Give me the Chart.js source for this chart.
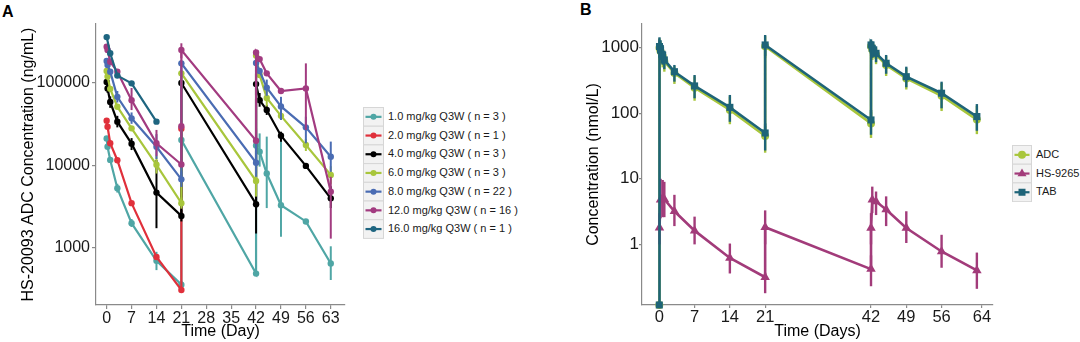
<!DOCTYPE html>
<html>
<head>
<meta charset="utf-8">
<title>HS-20093 pharmacokinetics</title>
<script src="https://cdn.jsdelivr.net/npm/chart.js@4.4.1/dist/chart.umd.min.js"></script>
<style>
  html, body { margin: 0; padding: 0; background: #fff; }
  body { position: relative; width: 1080px; height: 342px; overflow: hidden;
         font-family: "Liberation Sans", Arial, Helvetica, sans-serif; }
  canvas { position: absolute; top: 0; }
  #chartA { left: 0; }
  #chartB { left: 540px; }
  .tag { position: absolute; font-weight: bold; font-size: 16px; line-height: 1; color: #000; }
  .legend { position: absolute; }
  .legend svg { position: absolute; left: 0; top: 0; }
  .legend .lab { position: absolute; white-space: nowrap; font-size: 11px; color: #1a1a1a; }
</style>
</head>
<body>
<div class="tag" style="left:2px;top:4px">A</div>
<div class="tag" style="left:580px;top:2px">B</div>
<canvas id="chartA" width="350" height="342"></canvas>
<canvas id="chartB" width="460" height="342"></canvas>
<div id="legendA" class="legend" style="left:363px;top:107px"></div>
<div id="legendB" class="legend" style="left:1012px;top:145px"></div>
<script>
const FONT = '"Liberation Sans", Arial, Helvetica, sans-serif';
const AXIS_GREY = '#8a8a8a';

// ---------- Panel A: ADC concentration by dose level ----------
const daysA = [0, 0.25, 1, 3, 7, 14, 21, 21, 21, 42, 42, 43, 45, 49, 56, 63];
const xTicksA = [0, 7, 14, 21, 28, 35, 42, 49, 56, 63];
const yTicksA = [1000, 10000, 100000];

const doseLabels = [
  '1.0 mg/kg Q3W ( n = 3 )', '2.0 mg/kg Q3W ( n = 1 )', '4.0 mg/kg Q3W ( n = 3 )',
  '6.0 mg/kg Q3W ( n = 3 )', '8.0 mg/kg Q3W ( n = 22 )', '12.0 mg/kg Q3W ( n = 16 )',
  '16.0 mg/kg Q3W ( n = 1 )'
];
const doseColors = ['#4fa6a5', '#e0303b', '#000000', '#a8c63c', '#4a6cb3', '#a23b80', '#1e6580'];

const conc1 = [21300, 16900, 11700, 5300, 2000, 700, 360, null, 20400, 490, 17500, 14700, 8000, 3300, 2100, 650];
const lo1   = [null, null, null, 4700, 1800, 540, 330, null, null, null, 8000, 9700, 3050, 1370, null, 410];
const hi1   = [null, null, null, 6000, 2250, 900, 400, null, null, null, 28400, 24500, 22400, 22400, null, 1050];

const conc2 = [35000, 29500, 18600, 11600, 3500, 780, 310, null, 28000, null, null, null, null, null, null, null];

const conc4 = [103000, 86000, 59000, 34000, 18400, 4700, 2450, null, 100000, 3400, 97000, 62000, 47000, 23000, 9900, 4000];
const lo4   = [null, 76000, 50000, 29000, 15400, 1740, 2100, null, null, 1500, null, 51600, 41000, 19400, null, 3050];
const hi4   = [null, 97000, 69000, 40000, 21500, 11700, 2900, null, null, 6700, null, 75700, 54000, 25700, null, 5600];

const conc6 = [140000, 120000, 85000, 51600, 28200, 10200, 3500, null, 131000, 6500, 215000, 125000, 66000, 40000, 17700, 7700];
const lo6   = [null, null, null, null, null, 8000, 3000, null, null, 4200, null, null, 52000, 35600, 15000, 6000];
const hi6   = [null, null, null, null, null, 13000, 4100, null, null, 7700, null, null, 84000, 50000, 21000, 9800];

const conc8 = [185000, 165000, 137000, 68000, 37300, 16900, 6800, null, 173000, 10800, 175000, 140000, 88000, 52000, 29000, 12800];
const lo8   = [null, null, null, 58000, 32000, 12000, 5500, null, null, 7300, null, null, 70000, 35600, 18600, 8400];
const hi8   = [null, null, null, 80000, 44000, 24000, 8500, null, null, 26900, null, null, 110000, 68000, 39000, 19500];

const conc12 = [275000, 251000, 181000, 137000, 62000, 18600, 10300, 30000, 251000, 20000, 235000, 195000, 131000, 80000, 86000, 4800];
const lo12   = [null, null, null, null, 47000, 13000, null, null, 200000, null, null, null, null, null, 27000, 1300];
const hi12   = [null, null, null, null, 87000, 27000, null, null, 303000, null, null, null, null, null, 173000, 7300];

const conc16 = [360000, null, 229000, 123000, 99000, 34000, null, null, null, null, null, null, null, null, null, null];

// ---------- Panel B: ADC, payload and total antibody ----------
const daysB = [0, 0.04, 0.25, 0.67, 1, 3, 7, 14, 21, 21, 42, 42, 42.25, 43, 45, 49, 56, 63];
const xTicksB = [0, 7, 14, 21, 42, 49, 56, 64];
const yTicksB = [1, 10, 100, 1000];
const analyteLabels = ['ADC', 'HS-9265', 'TAB'];
const analyteColors = ['#a8c63c', '#a23b7a', '#1e6478'];

const adc   = [0, 1000, 880, 740, 620, 410, 245, 112, 45, 1050, 70, 1050, 930, 780, 545, 340, 185, 80];
const adcLo = [null, 650, 600, 500, 430, 280, 155, 68, 25, 700, 42, 750, 650, 560, 370, 230, 108, 48];
const adcHi = [null, 1380, 1250, 1050, 860, 520, 365, 180, 64, 1500, 104, 1290, 1200, 1000, 740, 490, 290, 130];

const payload   = [null, 1.8, 4.8, 5.1, 4.9, 3.2, 1.62, 0.62, 0.316, 1.83, 0.42, 1.78, 4.8, 4.5, 3.4, 1.78, 0.78, 0.40];
const payloadLo = [null, 1.0, 2.5, 2.6, 2.6, 1.9, 1.0, 0.36, 0.18, 1.0, 0.23, 1.0, 3.0, 2.8, 1.9, 1.05, 0.44, 0.21];
const payloadHi = [null, 3.0, 10, 9.6, 9.0, 5.7, 2.65, 1.03, 0.37, 3.3, 0.68, 3.0, 7.6, 6.4, 5.4, 3.2, 1.4, 0.75];

const tab   = [0, 1040, 920, 770, 650, 430, 261, 123, 50, 1100, 79, 1100, 980, 820, 578, 361, 202, 89];
const tabLo = [null, 700, 650, 550, 470, 303, 169, 74, 27, 750, 47, 800, 700, 600, 400, 249, 119, 54];
const tabHi = [null, 1440, 1300, 1100, 900, 545, 383, 190, 70, 1560, 112, 1340, 1250, 1050, 774, 513, 303, 138];

const Y_MIN_A = 204, Y_MAX_A = 519000;
const Y_MIN_B = 0.119, Y_MAX_B = 2296;

// Builds {x, y, lo, hi} points; zero (pre-dose) values sit on the log-axis floor.
function toPoints(days, vals, lo, hi, floor) {
  const out = [];
  days.forEach((d, i) => {
    const v = vals[i];
    if (v == null) return;
    out.push({ x: d, y: v > 0 ? v : floor, lo: lo ? lo[i] : null, hi: hi ? hi[i] : null });
  });
  return out;
}

// Vertical error bars, drawn right after their own dataset so layering follows the series order.
const errorBars = {
  id: 'errorBars',
  afterDatasetDraw(chart, args) {
    const ds = chart.data.datasets[args.index];
    const meta = args.meta;
    const ys = chart.scales.y;
    const a = chart.chartArea;
    const ctx = chart.ctx;
    ctx.save();
    ctx.beginPath();
    ctx.rect(a.left, a.top - 10, a.right - a.left, a.bottom - a.top + 10);
    ctx.clip();
    ctx.strokeStyle = ds.borderColor;
    ctx.lineWidth = ds.errorWidth || 2;
    ds.data.forEach((p, i) => {
      if (p.lo == null || p.hi == null) return;
      const el = meta.data[i];
      ctx.beginPath();
      ctx.moveTo(el.x, ys.getPixelForValue(p.lo));
      ctx.lineTo(el.x, ys.getPixelForValue(p.hi));
      ctx.stroke();
    });
    ctx.restore();
  }
};

function axis(opts) {
  return {
    type: opts.type,
    min: opts.min, max: opts.max,
    border: { display: true, color: AXIS_GREY, width: 1.2 },
    grid: { display: true, drawOnChartArea: false, drawTicks: true,
            tickLength: opts.tickLength, color: AXIS_GREY, lineWidth: 1.2 },
    ticks: { color: '#1a1a1a', font: { family: FONT, size: opts.tickSize }, padding: opts.pad,
             autoSkip: false, maxRotation: 0, minRotation: 0, callback: v => String(v) },
    afterBuildTicks: s => { s.ticks = opts.ticks.map(v => ({ value: v })); },
    title: { display: true, text: opts.title, color: '#000',
             font: { family: FONT, size: 16 }, padding: opts.titlePad },
    afterFit: opts.fit
  };
}

const seriesA = [
  [conc1, lo1, hi1], [conc2, null, null], [conc4, lo4, hi4], [conc6, lo6, hi6],
  [conc8, lo8, hi8], [conc12, lo12, hi12], [conc16, null, null]
];

new Chart(document.getElementById('chartA'), {
  type: 'line',
  data: {
    datasets: seriesA.map(([v, lo, hi], i) => ({
      label: doseLabels[i],
      data: toPoints(daysA, v, lo, hi, Y_MIN_A),
      borderColor: doseColors[i],
      backgroundColor: doseColors[i],
      borderWidth: 2.2,
      tension: 0,
      pointStyle: 'circle',
      pointRadius: 3.2,
      pointBorderWidth: 0,
      pointBackgroundColor: doseColors[i],
      errorWidth: 2,
      order: seriesA.length - i
    }))
  },
  options: {
    responsive: false, animation: false,
    layout: { padding: { top: 24, right: 5, left: 0, bottom: 0 } },
    plugins: { legend: { display: false }, tooltip: { enabled: false } },
    scales: {
      x: axis({ type: 'linear', min: -3.0, max: 67.0, ticks: xTicksA, tickLength: 4, pad: 0, tickSize: 16,
                title: 'Time (Day)', titlePad: { top: 0, bottom: 1 }, fit: s => { s.height = 37; } }),
      y: axis({ type: 'logarithmic', min: Y_MIN_A, max: Y_MAX_A, ticks: yTicksA, tickLength: 4, pad: 2, tickSize: 16,
                title: 'HS-20093 ADC Concentration (ng/mL)', titlePad: { top: 19, bottom: 0 }, fit: s => { s.width = 96; } })
    }
  },
  plugins: [errorBars]
});

const seriesB = [
  [adc, adcLo, adcHi, 'circle', 4],
  [payload, payloadLo, payloadHi, 'triangle', 5.5],
  [tab, tabLo, tabHi, 'rect', 5]
];

new Chart(document.getElementById('chartB'), {
  type: 'line',
  data: {
    datasets: seriesB.map(([v, lo, hi, shape, r], i) => ({
      label: analyteLabels[i],
      data: toPoints(daysB, v, lo, hi, Y_MIN_B),
      borderColor: analyteColors[i],
      backgroundColor: analyteColors[i],
      borderWidth: 2.6,
      tension: 0,
      pointStyle: shape,
      pointRadius: r,
      pointBorderWidth: 0,
      pointBackgroundColor: analyteColors[i],
      errorWidth: 2.4,
      clip: false,
      order: seriesB.length - i
    }))
  },
  options: {
    responsive: false, animation: false,
    layout: { padding: { top: 24, right: 7, left: 0, bottom: 0 } },
    plugins: { legend: { display: false }, tooltip: { enabled: false } },
    scales: {
      x: axis({ type: 'linear', min: -3.43, max: 66.2, ticks: xTicksB, tickLength: 3, pad: 0, tickSize: 16.5,
                title: 'Time (Days)', titlePad: { top: 0, bottom: 1 }, fit: s => { s.height = 37; } }),
      y: axis({ type: 'logarithmic', min: Y_MIN_B, max: Y_MAX_B, ticks: yTicksB, tickLength: 3, pad: 0, tickSize: 17,
                title: 'Concentration (nmol/L)', titlePad: { top: 44.4, bottom: 0 }, fit: s => { s.width = 102; } })
    }
  },
  plugins: [errorBars]
});

// ---------- Legends (grey key boxes with line + marker, text beside) ----------
function buildLegend(el, labels, colors, shapes, rowH, keyW, textLeft) {
  const ns = 'http://www.w3.org/2000/svg';
  const svg = document.createElementNS(ns, 'svg');
  svg.setAttribute('width', keyW + 1);
  svg.setAttribute('height', rowH * labels.length + 1);
  labels.forEach((lab, i) => {
    const y0 = i * rowH + 0.5;
    const cy = y0 + rowH / 2;
    const rect = document.createElementNS(ns, 'rect');
    rect.setAttribute('x', 0.5); rect.setAttribute('y', y0);
    rect.setAttribute('width', keyW); rect.setAttribute('height', rowH);
    rect.setAttribute('fill', '#f2f2f2'); rect.setAttribute('stroke', '#d6d6d6');
    svg.appendChild(rect);
    const line = document.createElementNS(ns, 'line');
    line.setAttribute('x1', 2.5); line.setAttribute('x2', keyW - 1.5);
    line.setAttribute('y1', cy); line.setAttribute('y2', cy);
    line.setAttribute('stroke', colors[i]); line.setAttribute('stroke-width', 2.2);
    svg.appendChild(line);
    const cx = 0.5 + keyW / 2;
    let mark;
    if (shapes[i] === 'triangle') {
      mark = document.createElementNS(ns, 'polygon');
      mark.setAttribute('points', `${cx},${cy - 5} ${cx + 4.5},${cy + 2.8} ${cx - 4.5},${cy + 2.8}`);
    } else if (shapes[i] === 'rect') {
      mark = document.createElementNS(ns, 'rect');
      mark.setAttribute('x', cx - 3.5); mark.setAttribute('y', cy - 3.5);
      mark.setAttribute('width', 7); mark.setAttribute('height', 7);
    } else {
      mark = document.createElementNS(ns, 'circle');
      mark.setAttribute('cx', cx); mark.setAttribute('cy', cy);
      mark.setAttribute('r', shapes[i] === 'big' ? 4 : 3);
    }
    mark.setAttribute('fill', colors[i]);
    svg.appendChild(mark);
    const t = document.createElement('div');
    t.className = 'lab';
    t.textContent = lab;
    t.style.left = textLeft + 'px';
    t.style.top = (i * rowH) + 'px';
    t.style.height = rowH + 'px';
    t.style.lineHeight = rowH + 'px';
    el.appendChild(t);
  });
  el.appendChild(svg);
}

buildLegend(document.getElementById('legendA'), doseLabels, doseColors,
            doseLabels.map(() => 'circle'), 18.7, 20, 25);
buildLegend(document.getElementById('legendB'), analyteLabels, analyteColors,
            ['big', 'triangle', 'rect'], 18.7, 19, 24);
</script>
</body>
</html>
